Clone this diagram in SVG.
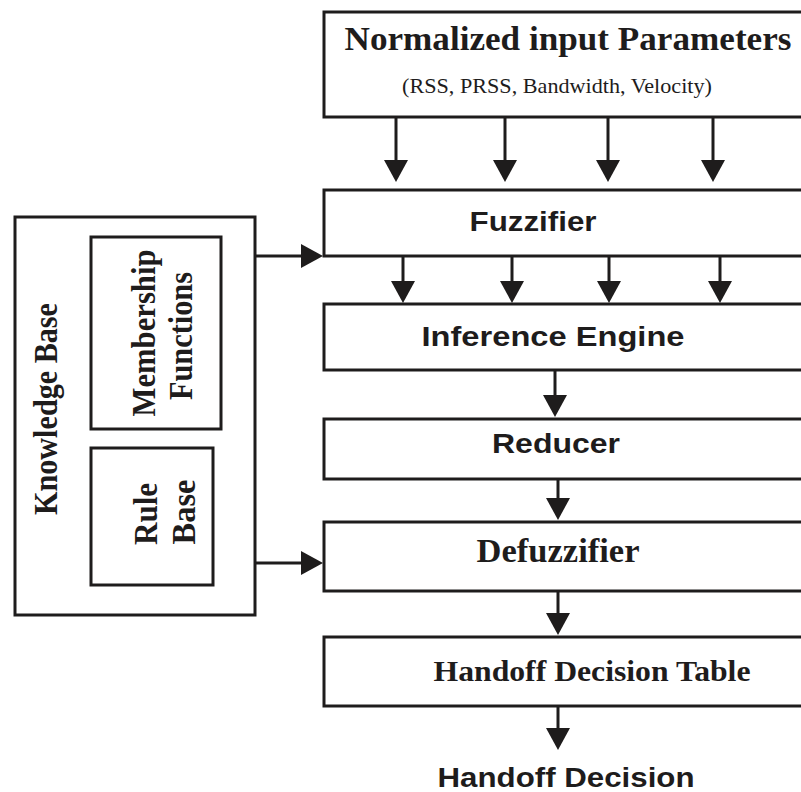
<svg xmlns="http://www.w3.org/2000/svg" width="801" height="792" viewBox="0 0 801 792">
  <style>
    .box { fill: #ffffff; stroke: #1e1c1c; stroke-width: 3; }
    .wire { fill: none; stroke: #1e1c1c; stroke-width: 3; }
    .sans { font-family: "Liberation Sans", Arial, sans-serif; font-weight: bold; fill: #1e1c1c; }
    .serif { font-family: "Liberation Serif", "Times New Roman", serif; font-weight: bold; fill: #1e1c1c; }
    .sub { font-family: "Liberation Serif", "Times New Roman", serif; fill: #1e1c1c; }
  </style>
  <defs>
    <marker id="head" viewBox="0 0 22 24" markerUnits="userSpaceOnUse" markerWidth="22" markerHeight="24" refX="12" refY="12" orient="auto">
      <path d="M0,0 L22,12 L0,24 z" fill="#1e1c1c"/>
    </marker>
  </defs>
  <rect width="801" height="792" fill="#ffffff"/>

  <!-- input parameters -->
  <g id="inputs">
    <rect class="box" x="324" y="12" width="490" height="105"/>
    <text class="serif" x="568" y="50" font-size="33" text-anchor="middle" textLength="447" lengthAdjust="spacingAndGlyphs">Normalized input Parameters</text>
    <text class="sub" x="557" y="93" font-size="21" text-anchor="middle" textLength="310" lengthAdjust="spacingAndGlyphs">(RSS, PRSS, Bandwidth, Velocity)</text>
  </g>

  <g id="fuzzifier">
    <rect class="box" x="324" y="190" width="490" height="66"/>
    <text class="sans" x="533" y="231" font-size="28" text-anchor="middle" textLength="127" lengthAdjust="spacingAndGlyphs">Fuzzifier</text>
  </g>

  <g id="inference">
    <rect class="box" x="324" y="304" width="490" height="66"/>
    <text class="sans" x="553" y="346" font-size="28" text-anchor="middle" textLength="263" lengthAdjust="spacingAndGlyphs">Inference Engine</text>
  </g>

  <g id="reducer">
    <rect class="box" x="324" y="419" width="490" height="60"/>
    <text class="sans" x="556" y="453" font-size="28" text-anchor="middle" textLength="128" lengthAdjust="spacingAndGlyphs">Reducer</text>
  </g>

  <g id="defuzzifier">
    <rect class="box" x="324" y="522" width="490" height="69"/>
    <text class="serif" x="558" y="562" font-size="34" text-anchor="middle" textLength="163" lengthAdjust="spacingAndGlyphs">Defuzzifier</text>
  </g>

  <g id="decision-table">
    <rect class="box" x="324" y="637" width="490" height="69"/>
    <text class="serif" x="592" y="681" font-size="30" text-anchor="middle" textLength="317" lengthAdjust="spacingAndGlyphs">Handoff Decision Table</text>
  </g>

  <g id="decision">
    <text class="sans" x="566" y="787" font-size="28" text-anchor="middle" textLength="257" lengthAdjust="spacingAndGlyphs">Handoff Decision</text>
  </g>

  <!-- knowledge base with its two stores -->
  <g id="knowledge-base">
    <rect class="box" x="15" y="217" width="240" height="398"/>
    <text class="serif" transform="translate(57 409) rotate(-90)" font-size="33" text-anchor="middle" textLength="212" lengthAdjust="spacingAndGlyphs">Knowledge Base</text>
  </g>

  <g id="membership">
    <rect class="box" x="91" y="237" width="130" height="192"/>
    <text class="serif" transform="translate(155 333) rotate(-90)" font-size="33" text-anchor="middle" textLength="167" lengthAdjust="spacingAndGlyphs">Membership</text>
    <text class="serif" transform="translate(192 336) rotate(-90)" font-size="33" text-anchor="middle" textLength="128" lengthAdjust="spacingAndGlyphs">Functions</text>
  </g>

  <g id="rule-base">
    <rect class="box" x="91" y="448" width="122" height="137"/>
    <text class="serif" transform="translate(157 514) rotate(-90)" font-size="33" text-anchor="middle" textLength="62" lengthAdjust="spacingAndGlyphs">Rule</text>
    <text class="serif" transform="translate(195 512) rotate(-90)" font-size="33" text-anchor="middle" textLength="65" lengthAdjust="spacingAndGlyphs">Base</text>
  </g>

  <!-- connectors -->
  <g id="connectors" class="wire" marker-end="url(#head)">
    <line x1="396" y1="117" x2="396" y2="172"/>
    <line x1="505" y1="117" x2="505" y2="172"/>
    <line x1="608" y1="117" x2="608" y2="172"/>
    <line x1="713" y1="117" x2="713" y2="172"/>

    <line x1="403" y1="256" x2="403" y2="293"/>
    <line x1="512" y1="256" x2="512" y2="293"/>
    <line x1="609" y1="256" x2="609" y2="293"/>
    <line x1="720" y1="256" x2="720" y2="293"/>

    <line x1="555" y1="370" x2="555" y2="407"/>
    <line x1="558" y1="479" x2="558" y2="510"/>
    <line x1="558" y1="591" x2="558" y2="625"/>
    <line x1="558" y1="706" x2="558" y2="740"/>

    <line x1="255" y1="256" x2="313" y2="256"/>
    <line x1="255" y1="563" x2="313" y2="563"/>
  </g>
</svg>
